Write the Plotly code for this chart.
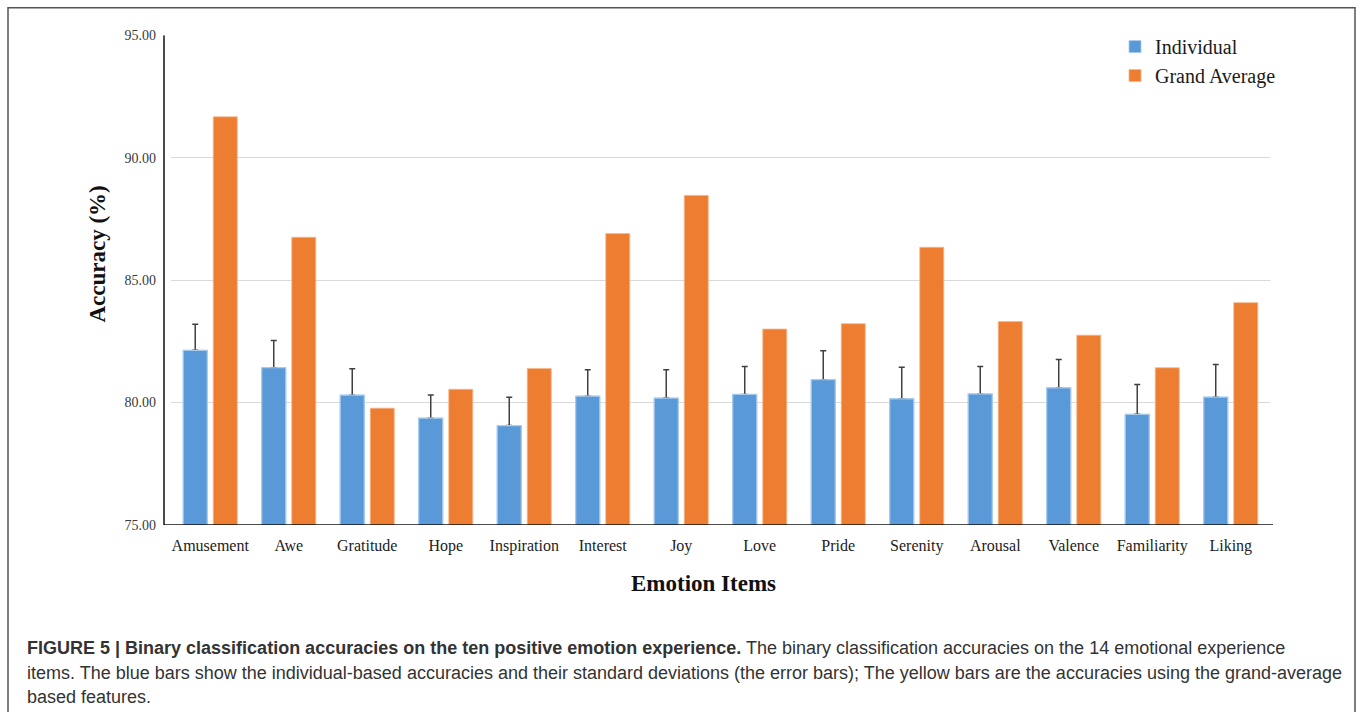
import plotly.graph_objects as go

categories = ["Amusement", "Awe", "Gratitude", "Hope", "Inspiration", "Interest", "Joy",
              "Love", "Pride", "Serenity", "Arousal", "Valence", "Familiarity", "Liking"]
individual = [82.13, 81.42, 80.30, 79.36, 79.06, 80.26, 80.18, 80.33, 80.93, 80.15, 80.35, 80.60, 79.52, 80.22]
individual_sd = [1.07, 1.11, 1.08, 0.95, 1.16, 1.08, 1.16, 1.14, 1.18, 1.29, 1.12, 1.16, 1.22, 1.33]
grand_average = [91.67, 86.75, 79.77, 80.54, 81.39, 86.90, 88.46, 83.00, 83.22, 86.34, 83.31, 82.75, 81.42, 84.08]
y_ticks = [75, 80, 85, 90, 95]

W, H = 1360, 712
# observed page mapping: shown_row = 0.9775 * figure_row + 7.8
SY, OY = 0.9775, 7.8


def py(t):
    """paper y for a target row t in the shown picture"""
    return 1 - ((t - OY) / SY) / H


serif = "Liberation Serif, Times New Roman, serif"
sans = "Liberation Sans, Arial, sans-serif"
blue = "#5a99d8"
blue_edge = "#a9cbee"

fig = go.Figure()
fig.add_trace(go.Bar(
    x=categories, y=individual, name="Individual", offsetgroup="ind",
    marker=dict(color=blue, line=dict(color=blue_edge, width=0.8)),
    error_y=dict(type="data", array=individual_sd, symmetric=False, arrayminus=[0] * len(individual_sd),
                 color="#404040", thickness=1.5, width=3),
))
fig.add_trace(go.Bar(
    x=categories, y=grand_average, name="Grand Average", offsetgroup="ga",
    marker=dict(color="#ed7d31", line=dict(color="#f6b88c", width=0.8)),
))
# same blue bars drawn again on top so the error bar has no lower cap
fig.add_trace(go.Bar(
    x=categories, y=individual, name="Individual", offsetgroup="ind", showlegend=False,
    hoverinfo="skip", marker=dict(color=blue, line=dict(color=blue_edge, width=1.2)),
))

x0, x1 = 171 / W, 1270 / W

fig.update_layout(
    width=W, height=H,
    margin=dict(l=0, r=0, t=0, b=0),
    paper_bgcolor="white", plot_bgcolor="white",
    barmode="group", bargap=0.235, bargroupgap=0.2,
    font=dict(family=serif, color="#222"),
    showlegend=True,
    legend=dict(x=1115 / W, y=1 - 20.5 / H, xanchor="left", yanchor="top",
                font=dict(family=serif, size=20, color="#1a1a1a"),
                bgcolor="rgba(0,0,0,0)", tracegroupgap=0, itemwidth=30),
    xaxis=dict(domain=[x0, x1], range=[-0.5, len(categories) - 0.5],
               showline=False, showgrid=False, zeroline=False, ticks="",
               tickfont=dict(family=serif, size=16, color="#222"), ticklabelstandoff=9),
    yaxis=dict(domain=[py(525), py(36)], range=[75, 95], tickvals=y_ticks, tickformat=".2f",
               showgrid=True, gridcolor="#d9d9d9", gridwidth=1, zeroline=False, showline=False,
               ticks="", tickfont=dict(family=serif, size=14, color="#3a3a3a"), ticklabelstandoff=14),
)

# axis lines
fig.add_shape(type="line", xref="paper", yref="y", x0=164 / W, x1=1273 / W, y0=75, y1=75,
              line=dict(color="#111", width=1.5))
fig.add_shape(type="line", xref="paper", yref="y", x0=164 / W, x1=164 / W, y0=75, y1=95,
              line=dict(color="#111", width=1.5))
# figure frame
fig.add_shape(type="rect", xref="paper", yref="paper", x0=8 / W, x1=1355 / W, y0=-0.05, y1=1 - 0.8 / H,
              line=dict(color="#555", width=1.5), fillcolor="rgba(0,0,0,0)", layer="below")

# axis titles
fig.add_annotation(text="<b>Emotion Items</b>", xref="paper", yref="paper", x=703 / W, y=py(583),
                   xanchor="center", yanchor="middle",
                   showarrow=False, font=dict(family=serif, size=23, color="#111"))
fig.add_annotation(text="<b>Accuracy (%)</b>", xref="paper", yref="paper", x=98 / W, y=py(254),
                   xanchor="center", yanchor="middle",
                   showarrow=False, textangle=-90, font=dict(family=serif, size=23, color="#111"))

# caption
cap_lines = [
    "<b>FIGURE 5 | Binary classification accuracies on the ten positive emotion experience.</b> "
    "The binary classification accuracies on the 14 emotional experience",
    "items. The blue bars show the individual-based accuracies and their standard deviations (the error bars); "
    "The yellow bars are the accuracies using the grand-average",
    "based features.",
]
for line, yc in zip(cap_lines, [648, 673, 697]):
    fig.add_annotation(text=line, xref="paper", yref="paper", x=25 / W, y=py(yc),
                       xanchor="left", yanchor="middle", showarrow=False,
                       font=dict(family=sans, size=18, color="#333"))

fig.write_html("out.html")
